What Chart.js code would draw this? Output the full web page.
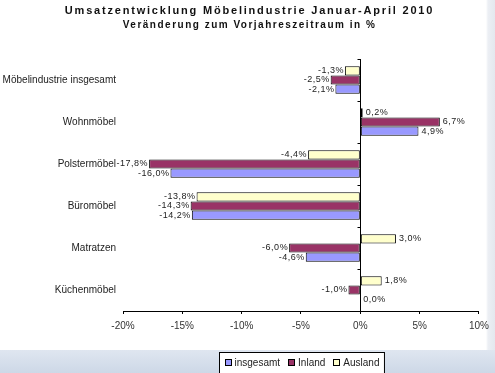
<!DOCTYPE html>
<html>
<head>
<meta charset="utf-8">
<script src="https://cdn.jsdelivr.net/npm/chart.js@4"></script>
<style>
  html, body { margin: 0; padding: 0; }
  body {
    width: 495px; height: 373px; overflow: hidden;
    background:
      linear-gradient(to bottom, rgba(255,255,255,0) 0, rgba(255,255,255,0) 350px, #dfe6f0 350px, #cdd8e7 373px),
      linear-gradient(to right, #ffffff 0, #ffffff 486px, #eceff4 488px, #e4e8ee 495px);
  }
  #wrap { position: relative; width: 495px; height: 373px; }
</style>
</head>
<body>
<div id="wrap"><canvas id="chart" width="495" height="373"></canvas></div>
<script>
const categories = ["Möbelindustrie insgesamt", "Wohnmöbel", "Polstermöbel", "Büromöbel", "Matratzen", "Küchenmöbel"];
const insgesamt = [-2.1, 4.9, -16.0, -14.2, -4.6, 0.0];
const inland = [-2.5, 6.7, -17.8, -14.3, -6.0, -1.0];
const ausland = [-1.3, 0.2, -4.4, -13.8, 3.0, 1.8];
const xTicks = [-20, -15, -10, -5, 0, 5, 10];
const legendOrder = ["insgesamt", "Inland", "Ausland"];

const fmt = (v) => v.toFixed(1).replace(".", ",") + "%";

// titles, drawn with a little letter spacing like the original
const titlePlugin = {
  id: "titles",
  afterDraw(chart) {
    const ctx = chart.ctx;
    const cx = chart.width / 2 + 2;
    ctx.save();
    ctx.fillStyle = "#111";
    ctx.textAlign = "center";
    ctx.textBaseline = "middle";
    ctx.letterSpacing = "1.8px";
    ctx.font = "bold 11px 'Liberation Sans', Arial, sans-serif";
    ctx.fillText("Umsatzentwicklung Möbelindustrie Januar-April 2010", cx, 11);
    ctx.letterSpacing = "1.5px";
    ctx.font = "bold 10px 'Liberation Sans', Arial, sans-serif";
    ctx.fillText("Veränderung zum Vorjahreszeitraum in %", cx, 25);
    ctx.restore();
  }
};

// value labels next to the bar ends
const valueLabels = {
  id: "valueLabels",
  afterDatasetsDraw(chart) {
    const ctx = chart.ctx;
    ctx.save();
    ctx.font = "9px 'Liberation Sans', Arial, sans-serif";
    ctx.letterSpacing = "0.5px";
    ctx.fillStyle = "#222";
    ctx.textBaseline = "middle";
    chart.data.datasets.forEach((ds, di) => {
      chart.getDatasetMeta(di).data.forEach((bar, i) => {
        const v = ds.data[i];
        if (v < 0) {
          ctx.textAlign = "right";
          ctx.fillText(fmt(v), bar.x - 1, bar.y);
        } else {
          ctx.textAlign = "left";
          ctx.fillText(fmt(v), bar.x + 3, bar.y);
        }
      });
    });
    ctx.restore();
  }
};

// small tick marks on the zero line between the categories
const zeroTicks = {
  id: "zeroTicks",
  afterDraw(chart) {
    const ctx = chart.ctx;
    const x0 = Math.round(chart.scales.x.getPixelForValue(0)) + 0.5;
    const y = chart.scales.y;
    const step = (y.bottom - y.top) / categories.length;
    ctx.save();
    ctx.strokeStyle = "#000";
    ctx.lineWidth = 1;
    ctx.beginPath();
    for (let i = 0; i < categories.length; i++) {
      const yy = Math.round(y.top + i * step) + 0.5;
      ctx.moveTo(x0 - 3, yy);
      ctx.lineTo(x0, yy);
    }
    ctx.stroke();
    ctx.restore();
  }
};

// legend in a framed box under the plot
const boxLegend = {
  id: "boxLegend",
  afterDraw(chart) {
    const ctx = chart.ctx;
    ctx.save();
    ctx.font = "10px 'Liberation Sans', Arial, sans-serif";
    const items = legendOrder.map((name) => chart.data.datasets.find((d) => d.label === name));
    const box = 7, gap = 3, between = 8, pad = 5;
    const widths = items.map((d) => box + gap + ctx.measureText(d.label).width);
    const total = widths.reduce((a, b) => a + b, 0) + between * (items.length - 1) + pad * 2;
    const area = chart.chartArea;
    const left = Math.round((area.left + area.right) / 2 - total / 2) + 0.5;
    const top = 352.5;
    ctx.fillStyle = "#fff";
    ctx.fillRect(left, top, total, 30);
    ctx.strokeStyle = "#000";
    ctx.lineWidth = 1;
    ctx.strokeRect(left, top, total, 30);
    let x = left + pad;
    const cy = 363;
    items.forEach((d, i) => {
      ctx.fillStyle = d.backgroundColor;
      ctx.fillRect(Math.round(x), cy - 4, box, box);
      ctx.strokeStyle = "#000";
      ctx.strokeRect(Math.round(x) + 0.5, cy - 3.5, box - 1, box - 1);
      ctx.fillStyle = "#222";
      ctx.textBaseline = "middle";
      ctx.textAlign = "left";
      ctx.fillText(d.label, x + box + gap, cy);
      x += widths[i] + between;
    });
    ctx.restore();
  }
};

new Chart(document.getElementById("chart"), {
  type: "bar",
  data: {
    labels: categories,
    datasets: [
      { label: "Ausland", data: ausland, backgroundColor: "#ffffcc" },
      { label: "Inland", data: inland, backgroundColor: "#993366" },
      { label: "insgesamt", data: insgesamt, backgroundColor: "#9999ff" }
    ].map((d) => Object.assign(d, {
      borderColor: "#000",
      borderWidth: 1,
      borderSkipped: false,
      categoryPercentage: 0.65,
      barPercentage: 1.0
    }))
  },
  options: {
    indexAxis: "y",
    responsive: false,
    animation: false,
    layout: { padding: { top: 59, right: 14, left: 0, bottom: 26 } },
    scales: {
      x: {
        min: -20,
        max: 10,
        afterBuildTicks: (scale) => { scale.ticks = xTicks.map((v) => ({ value: v })); },
        afterFit: (scale) => { scale.height = 36; },
        grid: {
          color: (c) => (c.tick && c.tick.value === 0 ? "#000" : "rgba(0,0,0,0)"),
          tickColor: "#000",
          tickLength: 3,
          lineWidth: 1
        },
        border: { display: true, color: "#000", width: 1 },
        ticks: {
          padding: 6,
          color: "#333",
          font: { family: "'Liberation Sans', Arial, sans-serif", size: 10 },
          callback: (v) => v + "%"
        }
      },
      y: {
        afterFit: (scale) => { scale.width = 123; },
        grid: { display: false, drawTicks: false },
        border: { display: false },
        ticks: {
          padding: 7,
          color: "#222",
          font: { family: "'Liberation Sans', Arial, sans-serif", size: 10 }
        }
      }
    },
    plugins: {
      legend: { display: false },
      tooltip: { enabled: false }
    }
  },
  plugins: [titlePlugin, valueLabels, zeroTicks, boxLegend]
});
</script>
</body>
</html>
